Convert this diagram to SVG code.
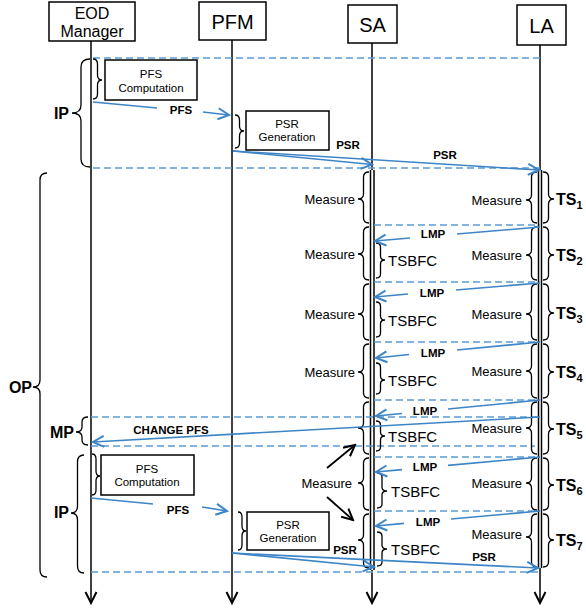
<svg xmlns="http://www.w3.org/2000/svg" width="586" height="610" viewBox="0 0 586 610">
<style>
text{font-family:"Liberation Sans",Arial,sans-serif;fill:#000}
.hd{text-anchor:middle;font-size:20px}
.hd2{text-anchor:middle;font-size:16px}
.bx{fill:#fff;stroke:#000;stroke-width:1.5}
.bt{text-anchor:middle;font-size:11.5px}
.life{stroke:#000;stroke-width:1.5;fill:none}
.br{fill:none;stroke:#000;stroke-width:1.3}
.dash{stroke:#5b9bd5;stroke-width:1.4;stroke-dasharray:7 4;fill:none}
.msg{stroke:#3d85c6;stroke-width:1.6;fill:none}
.ml{font-size:11.5px;font-weight:bold;text-anchor:middle}
.me{font-size:13px;text-anchor:end}
.tsb{font-size:15px}
.ts{font-size:16px;font-weight:bold}
.ph{font-size:16px;font-weight:bold;text-anchor:end}
.blk{stroke:#000;stroke-width:1.8;fill:none}
</style>
<defs>
<marker id="ab" markerWidth="14" markerHeight="14" refX="12" refY="7" orient="auto" markerUnits="userSpaceOnUse"><path d="M1,1.5 L12,7 L1,12.5" fill="none" stroke="#3d85c6" stroke-width="2"/></marker>
<marker id="ak" markerWidth="14" markerHeight="14" refX="12" refY="7" orient="auto" markerUnits="userSpaceOnUse"><path d="M1,1.5 L12,7 L1,12.5" fill="none" stroke="#000" stroke-width="2"/></marker>
</defs>
<rect width="586" height="610" fill="#fff"/>

<g id="lifelines">
<line class="life" x1="91" y1="41" x2="91" y2="603" marker-end="url(#ak)"/>
<line class="life" x1="232" y1="40" x2="232" y2="603" marker-end="url(#ak)"/>
<line class="life" x1="372" y1="43" x2="372" y2="170"/>
<line class="life" x1="370.5" y1="170" x2="370.5" y2="570"/>
<line class="life" x1="374" y1="170" x2="374" y2="570"/>
<line class="life" x1="372" y1="570" x2="372" y2="603" marker-end="url(#ak)"/>
<line class="life" x1="540" y1="45" x2="540" y2="170"/>
<line class="life" x1="538.5" y1="170" x2="538.5" y2="568"/>
<line class="life" x1="541.5" y1="170" x2="541.5" y2="568"/>
<line class="life" x1="540" y1="568" x2="540" y2="603" marker-end="url(#ak)"/>
</g>

<g id="eod"><rect class="bx" x="49" y="2" width="86" height="39"/><text class="hd2" x="92" y="19">EOD</text><text class="hd2" x="92" y="37">Manager</text></g>
<g id="pfm"><rect class="bx" x="199" y="2" width="67" height="38"/><text class="hd" x="232.5" y="29">PFM</text></g>
<g id="sa"><rect class="bx" x="348" y="5" width="49" height="38"/><text class="hd" x="372.5" y="32">SA</text></g>
<g id="la"><rect class="bx" x="517" y="5" width="49" height="40"/><text class="hd" x="541.5" y="33">LA</text></g>

<g id="pfs-comp-1"><rect class="bx" x="105" y="60" width="92" height="40"/><text class="bt" x="151" y="78">PFS</text><text class="bt" x="151" y="92">Computation</text></g>
<g id="psr-gen-1"><rect class="bx" x="246" y="111" width="83" height="39"/><text class="bt" x="287" y="128">PSR</text><text class="bt" x="287" y="141">Generation</text></g>
<g id="pfs-comp-2"><rect class="bx" x="101" y="455" width="93" height="40"/><text class="bt" x="147" y="473">PFS</text><text class="bt" x="147" y="486">Computation</text></g>
<g id="psr-gen-2"><rect class="bx" x="247" y="512" width="82" height="38"/><text class="bt" x="288" y="529">PSR</text><text class="bt" x="288" y="542">Generation</text></g>

<g id="dashes">
<line class="dash" x1="93" y1="58" x2="542" y2="58"/>
<line class="dash" x1="93" y1="168" x2="540" y2="168"/>
<line class="dash" x1="374" y1="225" x2="540" y2="225"/>
<line class="dash" x1="374" y1="282" x2="540" y2="282"/>
<line class="dash" x1="374" y1="342" x2="540" y2="342"/>
<line class="dash" x1="374" y1="400" x2="540" y2="400"/>
<line class="dash" x1="374" y1="457" x2="540" y2="457"/>
<line class="dash" x1="374" y1="511" x2="540" y2="511"/>
<line class="dash" x1="91" y1="417" x2="540" y2="417"/>
<line class="dash" x1="91" y1="446" x2="535" y2="446"/>
<line class="dash" x1="91" y1="572" x2="540" y2="572"/>
</g>

<g id="braces">
<path class="br" d="M90 59 Q81 59 81 67 L81 105 Q81 113 72 113 Q81 113 81 121 L81 159 Q81 167 90 167"/>
<path class="br" d="M93 59 Q97.5 59 97.5 64 L97.5 75 Q97.5 80 102 80 Q97.5 80 97.5 85 L97.5 94 Q97.5 99 93 99"/>
<path class="br" d="M235 115 Q239.5 115 239.5 120 L239.5 126 Q239.5 131 244 131 Q239.5 131 239.5 136 L239.5 143 Q239.5 148 235 148"/>
<path class="br" d="M47 173 Q40 173 40 180 L40 380 Q40 387 33 387 Q40 387 40 394 L40 570 Q40 577 47 577"/>
<path class="br" d="M88 417 Q82 417 82 422 L82 427 Q82 432 76 432 Q82 432 82 437 L82 440 Q82 445 88 445"/>
<path class="br" d="M84 455 Q77.5 455 77.5 462 L77.5 506 Q77.5 513 71 513 Q77.5 513 77.5 520 L77.5 566 Q77.5 573 84 573"/>
<path class="br" d="M92 454 Q96 454 96 459 L96 471 Q96 476 100 476 Q96 476 96 481 L96 490 Q96 495 92 495"/>
<path class="br" d="M238 512 Q242 512 242 517 L242 526 Q242 531 246 531 Q242 531 242 536 L242 545 Q242 550 238 550"/>

<path class="br" d="M369 172 Q363.5 172 363.5 177 L363.5 194 Q363.5 199 358 199 Q363.5 199 363.5 204 L363.5 218 Q363.5 223 369 223"/>
<path class="br" d="M369 227 Q363.5 227 363.5 232 L363.5 249 Q363.5 254 358 254 Q363.5 254 363.5 259 L363.5 275 Q363.5 280 369 280"/>
<path class="br" d="M369 284 Q363.5 284 363.5 289 L363.5 309 Q363.5 314 358 314 Q363.5 314 363.5 319 L363.5 335 Q363.5 340 369 340"/>
<path class="br" d="M369 344 Q363.5 344 363.5 349 L363.5 367 Q363.5 372 358 372 Q363.5 372 363.5 377 L363.5 393 Q363.5 398 369 398"/>
<path class="br" d="M369 402 Q363.5 402 363.5 407 L363.5 423 Q363.5 428 358 428 Q363.5 428 363.5 433 L363.5 449 Q363.5 454 369 454"/>
<path class="br" d="M369 458 Q363.5 458 363.5 463 L363.5 478 Q363.5 483 358 483 Q363.5 483 363.5 488 L363.5 505 Q363.5 510 369 510"/>
<path class="br" d="M369 514 Q363.5 514 363.5 519 L363.5 535 Q363.5 540 358 540 Q363.5 540 363.5 545 L363.5 563 Q363.5 568 369 568"/>

<path class="br" d="M537 172 Q531.5 172 531.5 177 L531.5 195 Q531.5 200 526 200 Q531.5 200 531.5 205 L531.5 218 Q531.5 223 537 223"/>
<path class="br" d="M537 227 Q531.5 227 531.5 232 L531.5 250 Q531.5 255 526 255 Q531.5 255 531.5 260 L531.5 275 Q531.5 280 537 280"/>
<path class="br" d="M537 284 Q531.5 284 531.5 289 L531.5 309 Q531.5 314 526 314 Q531.5 314 531.5 319 L531.5 335 Q531.5 340 537 340"/>
<path class="br" d="M537 344 Q531.5 344 531.5 349 L531.5 366 Q531.5 371 526 371 Q531.5 371 531.5 376 L531.5 393 Q531.5 398 537 398"/>
<path class="br" d="M537 402 Q531.5 402 531.5 407 L531.5 423 Q531.5 428 526 428 Q531.5 428 531.5 433 L531.5 449 Q531.5 454 537 454"/>
<path class="br" d="M537 458 Q531.5 458 531.5 463 L531.5 478 Q531.5 483 526 483 Q531.5 483 531.5 488 L531.5 505 Q531.5 510 537 510"/>
<path class="br" d="M537 514 Q531.5 514 531.5 519 L531.5 532 Q531.5 537 526 537 Q531.5 537 531.5 542 L531.5 562 Q531.5 567 537 567"/>

<path class="br" d="M543 172 Q548.5 172 548.5 177 L548.5 194 Q548.5 199 554 199 Q548.5 199 548.5 204 L548.5 218 Q548.5 223 543 223"/>
<path class="br" d="M543 227 Q548.5 227 548.5 232 L548.5 250 Q548.5 255 554 255 Q548.5 255 548.5 260 L548.5 275 Q548.5 280 543 280"/>
<path class="br" d="M543 284 Q548.5 284 548.5 289 L548.5 308 Q548.5 313 554 313 Q548.5 313 548.5 318 L548.5 335 Q548.5 340 543 340"/>
<path class="br" d="M543 344 Q548.5 344 548.5 349 L548.5 367 Q548.5 372 554 372 Q548.5 372 548.5 377 L548.5 393 Q548.5 398 543 398"/>
<path class="br" d="M543 402 Q548.5 402 548.5 407 L548.5 424 Q548.5 429 554 429 Q548.5 429 548.5 434 L548.5 449 Q548.5 454 543 454"/>
<path class="br" d="M543 458 Q548.5 458 548.5 463 L548.5 480 Q548.5 485 554 485 Q548.5 485 548.5 490 L548.5 505 Q548.5 510 543 510"/>
<path class="br" d="M543 514 Q548.5 514 548.5 519 L548.5 535 Q548.5 540 554 540 Q548.5 540 548.5 545 L548.5 562 Q548.5 567 543 567"/>

<path class="br" d="M376 243 Q380.5 243 380.5 247 L380.5 256 Q380.5 260 385 260 Q380.5 260 380.5 264 L380.5 274 Q380.5 278 376 278"/>
<path class="br" d="M376 302 Q380.5 302 380.5 306 L380.5 316 Q380.5 320 385 320 Q380.5 320 380.5 324 L380.5 333 Q380.5 337 376 337"/>
<path class="br" d="M376 363 Q380.5 363 380.5 367 L380.5 376 Q380.5 380 385 380 Q380.5 380 380.5 384 L380.5 390 Q380.5 394 376 394"/>
<path class="br" d="M376 421 Q380.5 421 380.5 425 L380.5 432 Q380.5 436 385 436 Q380.5 436 380.5 440 L380.5 447 Q380.5 451 376 451"/>
<path class="br" d="M377 473 Q382 473 382 477 L382 487 Q382 491 387 491 Q382 491 382 495 L382 504 Q382 508 377 508"/>
<path class="br" d="M377 532 Q382 532 382 536 L382 545 Q382 549 387 549 Q382 549 382 553 L382 562 Q382 566 377 566"/>
</g>

<g id="brace-labels">
<text class="ph" x="69" y="119">IP</text>
<text class="ph" x="32" y="393">OP</text>
<text class="ph" x="74" y="438">MP</text>
<text class="ph" x="69" y="518">IP</text>
<text class="me" x="355" y="204">Measure</text>
<text class="me" x="355" y="259">Measure</text>
<text class="me" x="355" y="319">Measure</text>
<text class="me" x="355" y="377">Measure</text>
<text class="me" x="352" y="488">Measure</text>
<text class="me" x="522" y="205">Measure</text>
<text class="me" x="522" y="260">Measure</text>
<text class="me" x="522" y="319">Measure</text>
<text class="me" x="522" y="376">Measure</text>
<text class="me" x="522" y="433">Measure</text>
<text class="me" x="522" y="488">Measure</text>
<text class="me" x="522" y="539">Measure</text>
<text class="tsb" x="388" y="265.5">TSBFC</text>
<text class="tsb" x="388" y="325.5">TSBFC</text>
<text class="tsb" x="388" y="385.5">TSBFC</text>
<text class="tsb" x="388" y="441.5">TSBFC</text>
<text class="tsb" x="391" y="496.5">TSBFC</text>
<text class="tsb" x="391" y="554.5">TSBFC</text>
<text class="ts" x="556" y="205">TS<tspan font-size="11" dy="4">1</tspan></text>
<text class="ts" x="556" y="261">TS<tspan font-size="11" dy="4">2</tspan></text>
<text class="ts" x="556" y="319">TS<tspan font-size="11" dy="4">3</tspan></text>
<text class="ts" x="556" y="378">TS<tspan font-size="11" dy="4">4</tspan></text>
<text class="ts" x="556" y="435">TS<tspan font-size="11" dy="4">5</tspan></text>
<text class="ts" x="556" y="491">TS<tspan font-size="11" dy="4">6</tspan></text>
<text class="ts" x="556" y="546">TS<tspan font-size="11" dy="4">7</tspan></text>
</g>

<g id="connectors">
<line class="msg" x1="93" y1="102" x2="157" y2="108"/>
<line class="msg" x1="203" y1="112" x2="229" y2="115" marker-end="url(#ab)"/>
<text class="ml" x="181" y="114">PFS</text>
<line class="msg" x1="233" y1="151" x2="372" y2="164.5" marker-end="url(#ab)"/>
<line class="msg" x1="233" y1="151" x2="539" y2="170" marker-end="url(#ab)"/>
<text class="ml" x="348" y="149">PSR</text>
<text class="ml" x="445" y="159">PSR</text>

<line class="msg" x1="540" y1="227" x2="457" y2="234"/>
<line class="msg" x1="410" y1="238" x2="375" y2="241" marker-end="url(#ab)"/>
<text class="ml" x="433" y="238">LMP</text>
<line class="msg" x1="540" y1="283" x2="456" y2="290"/>
<line class="msg" x1="408" y1="294" x2="375" y2="297" marker-end="url(#ab)"/>
<text class="ml" x="432" y="297">LMP</text>
<line class="msg" x1="540" y1="342" x2="457" y2="350"/>
<line class="msg" x1="409" y1="354.5" x2="376" y2="358" marker-end="url(#ab)"/>
<text class="ml" x="433" y="357">LMP</text>
<line class="msg" x1="540" y1="400" x2="448" y2="409"/>
<line class="msg" x1="402" y1="413.5" x2="376" y2="416" marker-end="url(#ab)"/>
<text class="ml" x="425" y="415">LMP</text>
<line class="msg" x1="540" y1="457" x2="448" y2="465.4"/>
<line class="msg" x1="402" y1="469.6" x2="376" y2="472" marker-end="url(#ab)"/>
<text class="ml" x="425" y="471">LMP</text>
<line class="msg" x1="540" y1="511" x2="451" y2="519"/>
<line class="msg" x1="404" y1="523.4" x2="376" y2="526" marker-end="url(#ab)"/>
<text class="ml" x="428" y="526">LMP</text>

<line class="msg" x1="540" y1="417" x2="93" y2="442" marker-end="url(#ab)"/>
<text class="ml" x="171" y="434">CHANGE PFS</text>

<line class="msg" x1="91" y1="498" x2="153" y2="504"/>
<line class="msg" x1="202" y1="507" x2="227" y2="511" marker-end="url(#ab)"/>
<text class="ml" x="178" y="514">PFS</text>
<line class="msg" x1="232" y1="553" x2="374" y2="567" marker-end="url(#ab)"/>
<line class="msg" x1="232" y1="553" x2="538" y2="568" marker-end="url(#ab)"/>
<text class="ml" x="345" y="554">PSR</text>
<text class="ml" x="484" y="561">PSR</text>

<line class="blk" x1="327" y1="468" x2="355" y2="445" marker-end="url(#ak)"/>
<line class="blk" x1="327" y1="497" x2="353" y2="520" marker-end="url(#ak)"/>
</g>
</svg>
